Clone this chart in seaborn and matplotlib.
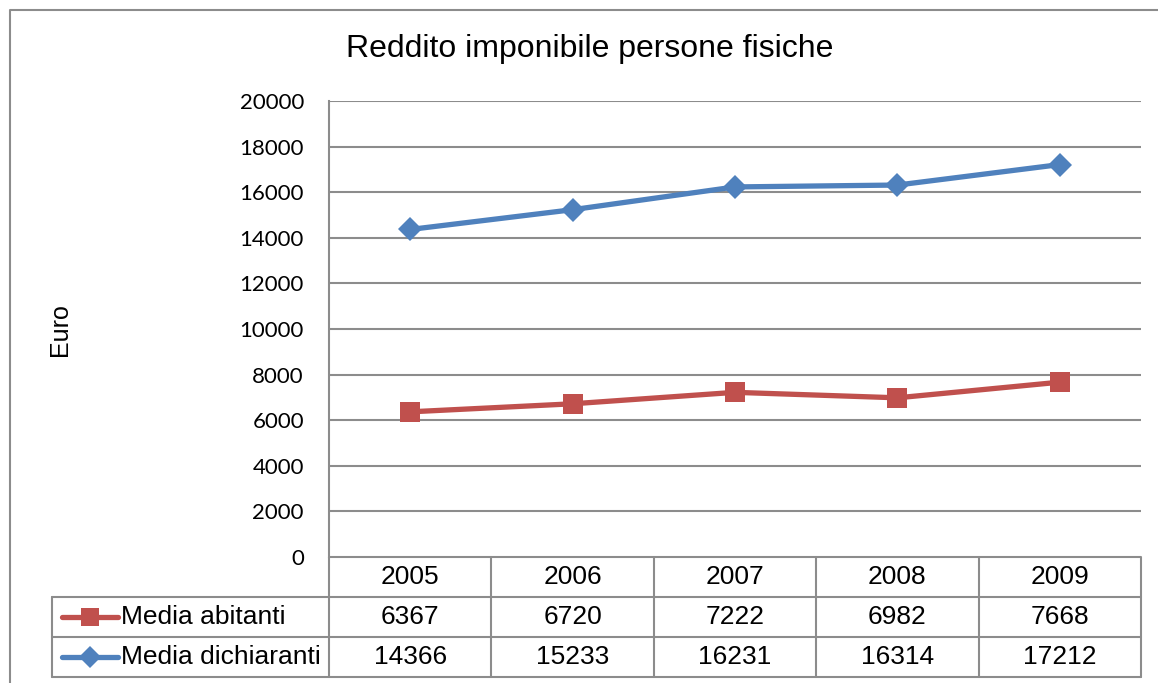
import numpy as np
import pandas as pd
import matplotlib
matplotlib.use("Agg")
import matplotlib.pyplot as plt
import seaborn as sns
from matplotlib.lines import Line2D

# dati
anni = ["2005", "2006", "2007", "2008", "2009"]
media_abitanti = [6367, 6720, 7222, 6982, 7668]
media_dichiaranti = [14366, 15233, 16231, 16314, 17212]
serie = ["Media abitanti", "Media dichiaranti"]
colori = {"Media abitanti": "#C0504D", "Media dichiaranti": "#4F81BD"}
marcatori = {"Media abitanti": "s", "Media dichiaranti": "D"}
dimensioni = {"Media abitanti": 14, "Media dichiaranti": 12}

df = pd.DataFrame({
    "anno": anni * 2,
    "valore": media_abitanti + media_dichiaranti,
    "serie": [serie[0]] * 5 + [serie[1]] * 5,
})

sns.set_theme(style="white")
plt.rcParams["font.family"] = ["Liberation Sans", "DejaVu Sans"]
plt.rcParams["text.color"] = "black"
plt.rcParams["ytick.color"] = "black"

W, H = 1158, 683
fig = plt.figure(figsize=(W / 100, H / 100), dpi=100)
grigio = "#8C8C8C"

# area del grafico
x0, x1, y_top, y_bot = 329, 1141, 101, 557
ax = fig.add_axes([x0 / W, 1 - y_bot / H, (x1 - x0) / W, (y_bot - y_top) / H])

for s in serie:
    d = df[df["serie"] == s]
    sns.lineplot(data=d, x="anno", y="valore", ax=ax, color=colori[s],
                 marker=marcatori[s], markersize=dimensioni[s], linewidth=3.8,
                 markeredgewidth=0, legend=False, zorder=3)

ax.set_xlim(-0.5, 4.5)
ax.set_ylim(0, 20000)
ax.set_yticks(np.arange(0, 20001, 2000))
ax.set_yticklabels([str(v) for v in range(0, 20001, 2000)], family="Lato",
                   fontsize=16, color="black")
ax.set_xticks([])
ax.set_xlabel("")
ax.set_ylabel("")
ax.tick_params(axis="y", length=0, pad=18)
ax.grid(axis="y", color=grigio, linewidth=1.5)
ax.grid(axis="x", visible=False)
for side in ["top", "right", "bottom"]:
    ax.spines[side].set_visible(False)
ax.spines["left"].set_color(grigio)
ax.spines["left"].set_linewidth(1.5)

# tabella dati sotto il grafico
col_w = (x1 - x0) / 5
t_left = 52
t_bot = 677
tab = fig.add_axes([t_left / W, 1 - t_bot / H, (x1 - t_left) / W, (t_bot - y_bot) / H])
xs = -0.5 - (x0 - t_left) / col_w
tab.set_xlim(xs, 4.5)
tab.set_ylim(3, 0)
tab.axis("off")

lw = 1.5
# righe orizzontali
tab.plot([-0.5, 4.5], [0, 0], color=grigio, lw=lw)
for r in [1, 2, 3]:
    tab.plot([xs, 4.5], [r, r], color=grigio, lw=lw, clip_on=False)
# righe verticali
for c in range(6):
    tab.plot([c - 0.5, c - 0.5], [0, 3], color=grigio, lw=lw, clip_on=False)
tab.plot([xs, xs], [1, 3], color=grigio, lw=lw, clip_on=False)

fs = 19
for i, a in enumerate(anni):
    tab.text(i, 0.5, a, ha="center", va="center", fontsize=fs)
valori = [media_abitanti, media_dichiaranti]
for r, s in enumerate(serie):
    for i, v in enumerate(valori[r]):
        tab.text(i, r + 1.5, str(v), ha="center", va="center", fontsize=fs)
    lx0 = xs + 10 / col_w
    lx1 = xs + 66 / col_w
    tab.add_line(Line2D([lx0, lx1], [r + 1.5, r + 1.5], color=colori[s], lw=3.8))
    tab.add_line(Line2D([(lx0 + lx1) / 2], [r + 1.5], color=colori[s],
                        marker=marcatori[s], markersize=dimensioni[s] - 1,
                        markeredgewidth=0))
    tab.text(xs + 69 / col_w, r + 1.5, s, ha="left", va="center", fontsize=fs)

# titolo ed etichetta asse
fig.text(590 / W, 1 - 49 / H, "Reddito imponibile persone fisiche",
         ha="center", va="center", fontsize=23)
fig.text(60 / W, 1 - 330 / H, "Euro", ha="center", va="center",
         rotation=90, fontsize=18)

# bordo esterno del grafico
fig.add_artist(Line2D([10 / W, 10 / W, 1.0], [0.0, 1 - 10 / H, 1 - 10 / H],
                      transform=fig.transFigure, color=grigio, lw=1.5))

fig.savefig("out.png", dpi=100)
